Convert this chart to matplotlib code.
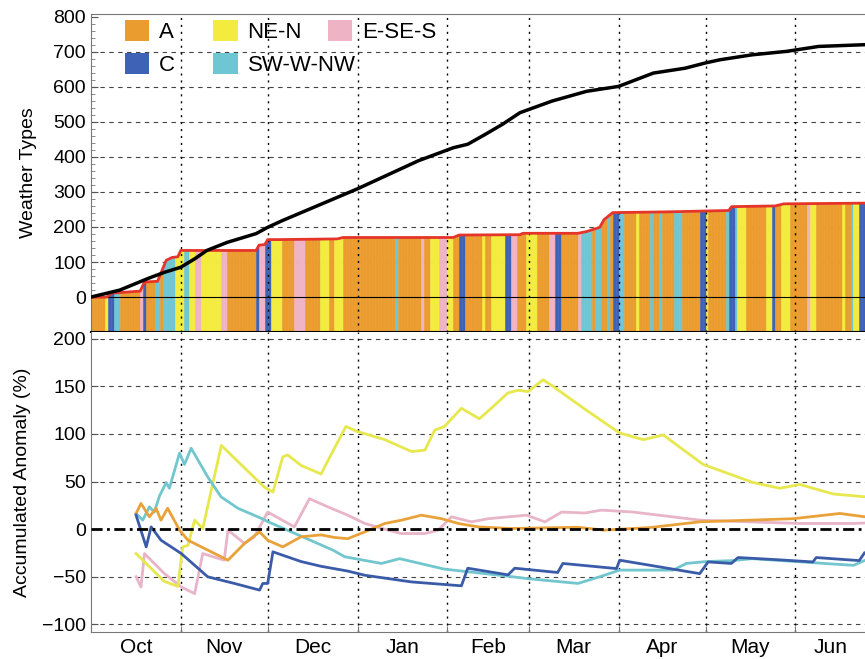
import numpy as np
import matplotlib
matplotlib.use("Agg")
import matplotlib.pyplot as plt
from matplotlib.patches import Patch, Polygon

plt.rcParams['font.family'] = ['Liberation Sans', 'DejaVu Sans']

# day 0 = 1 October
type_names = ['A', 'C', 'NE-N', 'SW-W-NW', 'E-SE-S']
type_keys = ['A', 'C', 'N', 'W', 'E']
bar_colors = ['#EA9C2E', '#3E62B6', '#F3EC3E', '#6EC6D2', '#EEB3C5']
line_colors = ['#E9A23A', '#3A5CA8', '#E6E84E', '#72C6CE', '#E8B5C8']

# daily weather type, as runs (type, number of days)
run_types = ['A', 'N', 'C', 'W', 'A', 'E', 'C', 'A', 'W', 'A', 'W', 'N', 'W', 'N', 'E', 'N', 'E', 'A',
             'C', 'E', 'C', 'N', 'A', 'E', 'A', 'N', 'A', 'N', 'A', 'W', 'A', 'E', 'A', 'N', 'E', 'N',
             'A', 'C', 'A', 'N', 'A', 'N', 'C', 'E', 'A', 'N', 'A', 'E', 'C', 'A', 'E', 'W', 'A', 'W',
             'A', 'W', 'A', 'C', 'W', 'A', 'N', 'A', 'W', 'A', 'W', 'A', 'W', 'A', 'C', 'N', 'A', 'W',
             'C', 'W', 'N', 'A', 'N', 'C', 'A', 'N', 'A', 'E', 'N', 'A', 'N', 'A', 'W', 'N', 'C']
run_lengths = [5, 1, 2, 2, 7, 1, 1, 3, 2, 1, 4, 3, 2, 2, 2, 7, 2, 10,
               1, 2, 2, 4, 4, 4, 5, 3, 2, 3, 18, 1, 8, 1, 2, 3, 3, 2,
               2, 2, 6, 1, 2, 5, 2, 2, 3, 4, 4, 2, 2, 6, 1, 4, 1, 2,
               2, 1, 1, 2, 2, 4, 1, 4, 1, 2, 1, 4, 3, 6, 2, 1, 6, 1,
               2, 1, 3, 7, 2, 1, 2, 3, 6, 1, 2, 9, 1, 2, 1, 2, 2]

# red envelope (top of the coloured bars)
red_days = [0, 5.5, 7, 17, 18.5, 23, 26, 28, 30, 31, 57, 58, 60, 61, 65, 85, 87, 125, 127,
            148, 149, 168, 171, 175.5, 177, 180, 198, 220, 221, 236, 239, 267]
red_vals = [0, 0, 11, 17, 43, 45, 105, 113, 115, 133, 133, 148, 150, 164, 164, 166, 170, 170, 177,
            178, 182, 182, 187, 199, 221, 241, 243, 247, 258, 260, 266, 268]

# black cumulative line
blk_days = [0, 10, 20, 25.5, 31, 36, 40, 47, 57, 61, 66, 92, 113, 125, 130, 136, 142, 148, 151,
            159, 171, 182, 194, 205, 212, 217, 228, 240, 251, 267]
blk_vals = [0, 20, 54, 71, 85, 110, 133, 156, 181, 199, 218, 309, 389, 426, 436, 464, 493, 526, 535,
            559, 587, 601, 639, 653, 668, 677, 691, 701, 715, 720]

# accumulated anomaly (%)
a_days = [15.6, 17.3, 20.2, 22.5, 24.2, 26.5, 30.6, 33.5, 47.3, 53, 58.2, 61, 66.2, 72.5, 79.4, 84,
          88.6, 94.5, 101.4, 107.2, 114, 121, 126.7, 133.6, 145, 168, 177, 192.8, 210, 227.3, 242.2,
          258.3, 267]
a_vals = [16.5, 27, 13, 22, 9.5, 22, -1, -11.6, -32.6, -15, -2.8, -11.6, -18.6, -8, -6, -8.7,
          -10, -2.8, 6, 9.5, 14.7, 11, 6, 2.4, 0.7, 2, -1, 1.7, 7.7, 9.5, 11, 16.5, 13]

c_days = [15.6, 19.1, 20.8, 24.2, 31.2, 40.3, 49.5, 58.2, 59.3, 61, 62.8, 72.5, 79.4, 88.6, 94.5,
          110.6, 127.8, 130, 143.9, 146.2, 161, 162.8, 181.3, 182.4, 210, 212.9, 220.9, 223.2, 236.4,
          249, 250.2, 265, 266.8]
c_vals = [14.7, -18.6, 2.4, -11.6, -25.6, -50, -57, -64, -57, -57, -23.8, -34, -39, -44, -48.4,
          -55.4, -59.5, -41, -48, -41, -45.5, -36, -41.4, -32.6, -46.7, -34.4, -36, -29.8, -32,
          -34.4, -29.8, -33, -25]

n_days = [15.6, 25.4, 30, 31.7, 33.5, 35.8, 38.6, 45, 59.9, 62.8, 66.2, 67.9, 72.5, 79.4, 84, 88,
          91.5, 101.4, 110.6, 115.2, 118.6, 122, 127.8, 134, 138.1, 143.8, 147.3, 150.8, 156, 159.4,
          170.9, 182.4, 190.5, 197.4, 211.2, 228.4, 237.6, 244.5, 256, 267]
n_vals = [-25.6, -55, -60, -18.6, -17, 9.5, 0.7, 88, 44, 39, 76, 78, 67, 58, 85, 108,
          103, 94, 81.6, 83, 104, 108, 127, 116, 127, 143, 146, 144.5, 157, 150,
          125, 101, 94, 99, 68, 49, 43, 47, 37, 34]

w_days = [15.6, 17.9, 20.2, 21.9, 23.7, 26, 27.1, 30.6, 32.3, 34.6, 40.3, 44.9, 50.7, 58.7, 61,
          83.5, 87.6, 100.2, 106.5, 122, 142.8, 150.8, 168, 175.5, 182.4, 194, 200.8, 205.4, 212.3,
          221.5, 228, 263, 266.8]
w_vals = [16.5, 9.5, 23.5, 18, 35, 49, 43, 80, 68, 85, 55, 34, 22, 11.5, 8,
          -22, -29, -36, -31, -42, -49, -52, -57, -50, -43, -43, -43, -36, -34,
          -33, -31, -38, -33]

e_days = [15.6, 17.3, 18.5, 25.4, 31.2, 35.8, 38.6, 46, 47.3, 53, 56.4, 61, 70.2, 75.4, 81.7, 88.6,
          94.5, 102.5, 107.2, 115.2, 119.8, 124.4, 131.3, 137, 150.3, 156.6, 162.4, 170.4, 176.1,
          187, 210, 227.3, 244.5, 263, 267]
e_vals = [-50, -60.7, -25.6, -46.7, -60.7, -67.7, -25.6, -32.6, -1, -15, -8, 18, 2.4, 32, 23.5, 14.7,
          6, -1, -4.6, -4.6, -1, 13, 7.7, 11, 14.7, 7.7, 18, 17, 20,
          18, 9.5, 7.7, 6, 6, 6.5]

month_starts = [0, 31, 61, 92, 123, 151, 182, 212, 243]
month_labels = ['Oct', 'Nov', 'Dec', 'Jan', 'Feb', 'Mar', 'Apr', 'May', 'Jun']
x_end = 267

fig = plt.figure(figsize=(8.65, 6.59), dpi=100)
ax1 = fig.add_axes([0.105, 0.496, 0.895, 0.483])
ax2 = fig.add_axes([0.105, 0.041, 0.895, 0.455], sharex=ax1)

grid_kw = dict(color='#444444', lw=0.8, ls=(0, (4, 4)))
vline_kw = dict(color='black', lw=1.0, ls=(0, (1.5, 3.5)))

# ---- top panel: weather types ----
daily = np.repeat(run_types, run_lengths)
cols = [bar_colors[type_keys.index(t)] for t in daily]
days = np.arange(len(daily))
bars = ax1.bar(days + 0.5, 920, bottom=-100, width=1.0, color=cols, edgecolor=cols,
               linewidth=0.4, zorder=2)
clip = Polygon(np.column_stack([red_days + [x_end, 0], red_vals + [-100, -100]]),
               closed=True, transform=ax1.transData)
for b in bars:
    b.set_clip_path(clip)

ax1.plot(red_days, red_vals, color='#E5352A', lw=2, zorder=4)
ax1.axhline(0, color='black', lw=0.8, zorder=3)
ax1.plot(blk_days, blk_vals, color='black', lw=2.5, zorder=5)

for v in range(100, 800, 100):
    ax1.axhline(v, zorder=1, **grid_kw)
for d in month_starts[1:]:
    ax1.axvline(d, zorder=3, **vline_kw)

ax1.set_ylim(-100, 808)
ax1.set_yticks(range(0, 801, 100))
ax1.set_yticks(range(-100, 801, 20), minor=True)
ax1.set_ylabel('Weather Types', fontsize=14)
ax1.yaxis.set_label_coords(-0.07, 0.5)
ax1.tick_params(axis='y', direction='in', labelsize=14, length=5, color='#555555')
ax1.tick_params(axis='y', which='minor', direction='in', length=3, color='#777777')
ax1.tick_params(axis='x', which='both', labelbottom=False, length=0)
for s in ['left', 'top']:
    ax1.spines[s].set_color('#777777')
ax1.spines['right'].set_visible(False)
ax1.spines['bottom'].set_linewidth(1.5)

# legend, three columns placed by hand
leg_kw = dict(loc='upper left', frameon=False, fontsize=16, handlelength=1.1, handleheight=1.1,
              handletextpad=0.45, labelspacing=0.45, borderpad=0, borderaxespad=0)
handles = [Patch(facecolor=c, edgecolor='none') for c in bar_colors]
l1 = ax1.legend([handles[0], handles[1]], type_names[:2], bbox_to_anchor=(0.044, 0.982), **leg_kw)
ax1.add_artist(l1)
l2 = ax1.legend([handles[2], handles[3]], type_names[2:4], bbox_to_anchor=(0.158, 0.982), **leg_kw)
ax1.add_artist(l2)
ax1.legend([handles[4]], type_names[4:], bbox_to_anchor=(0.306, 0.982), **leg_kw)

# ---- bottom panel: accumulated anomaly ----
for v in range(-100, 201, 50):
    if v != 0:
        ax2.axhline(v, zorder=1, **grid_kw)
for d in month_starts[1:]:
    ax2.axvline(d, zorder=1, **vline_kw)

series = [(a_days, a_vals), (c_days, c_vals), (n_days, n_vals), (w_days, w_vals), (e_days, e_vals)]
for k in [4, 2, 3, 0, 1]:
    xd, yd = series[k]
    ax2.plot(xd, yd, color=line_colors[k], lw=2, zorder=3)
ax2.axhline(0, color='black', lw=2, ls=(0, (4, 1.6, 1, 1.6)), zorder=5)

ax2.set_ylim(-108, 207)
ax2.set_yticks(range(-100, 201, 50))
ax2.set_xlim(0, x_end)
ax2.set_xticks(month_starts)
ax2.set_xticklabels([])
mids = [(month_starts[i] + (month_starts[i + 1] if i + 1 < len(month_starts) else x_end)) / 2
        for i in range(len(month_starts))]
ax2.set_xticks(mids, minor=True)
ax2.set_xticklabels(month_labels, minor=True, fontsize=15)
ax2.tick_params(axis='x', which='minor', length=0, pad=4)
ax2.tick_params(axis='x', which='major', direction='in', length=4, color='#777777')
ax2.tick_params(axis='y', direction='in', labelsize=14, length=5, color='#555555')
ax2.set_ylabel('Accumulated Anomaly (%)', fontsize=14)
ax2.yaxis.set_label_coords(-0.077, 0.5)
for s in ['left', 'bottom']:
    ax2.spines[s].set_color('#777777')
ax2.spines['right'].set_visible(False)
ax2.spines['top'].set_visible(False)

fig.savefig('out.png', dpi=100)
